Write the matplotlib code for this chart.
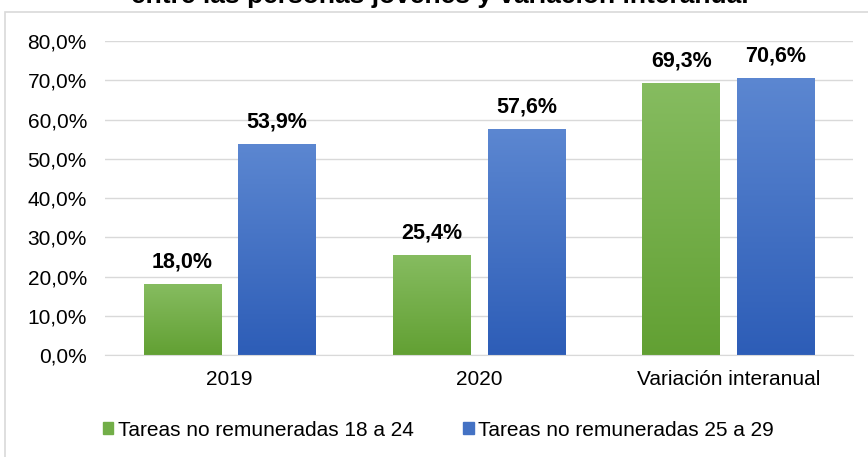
import numpy as np
import matplotlib.pyplot as plt
from matplotlib.colors import LinearSegmentedColormap
from matplotlib.patches import Rectangle

plt.rcParams['font.family'] = ['Liberation Sans', 'DejaVu Sans']

categories = ['2019', '2020', 'Variación interanual']
jov_18_24 = [18.0, 25.4, 69.3]
jov_25_29 = [53.9, 57.6, 70.6]
series_names = ['Tareas no remuneradas 18 a 24', 'Tareas no remuneradas 25 a 29']
title = 'entre las personas jóvenes y variación interanual'

fig = plt.figure(figsize=(8.68, 4.57), dpi=100)
ax = fig.add_axes([0.121, 0.223, 0.862, 0.687])

# marco del gráfico
fig.patches.append(Rectangle((5/868, -0.01), 1.0, 1 - 12/457 + 0.01, transform=fig.transFigure,
                             fill=False, edgecolor='#D9D9D9', linewidth=1.2))

x = np.arange(len(categories))
w = 0.31
off = 0.19
green = LinearSegmentedColormap.from_list('g', ['#62A033', '#86BC60'])
blue = LinearSegmentedColormap.from_list('b', ['#2D5DB7', '#5C87D1'])

grad = np.linspace(0, 1, 256).reshape(-1, 1)
for vals, cmap, dx, name in [(jov_18_24, green, -off, series_names[0]),
                             (jov_25_29, blue, off, series_names[1])]:
    bars = ax.bar(x + dx, vals, w, color=cmap(0.5), label=name, zorder=2)
    for b, v in zip(bars, vals):
        b.set_facecolor('none')
        b.set_edgecolor('none')
        im = ax.imshow(grad, cmap=cmap, origin='lower', aspect='auto', zorder=2,
                       extent=[b.get_x(), b.get_x() + b.get_width(), 0, b.get_height()])
        im.set_clip_path(b)
        ax.text(b.get_x() + b.get_width() / 2, v + 4.2, f'{v:.1f}%'.replace('.', ','),
                ha='center', va='baseline', fontsize=15.5, fontweight='bold')

ax.set_xlim(-0.5, 2.5)
ax.set_ylim(0, 80)
ax.set_yticks(np.arange(0, 81, 10))
ax.set_yticklabels([f'{t:.1f}%'.replace('.', ',') for t in np.arange(0, 81, 10)])
ax.set_xticks(x)
ax.set_xticklabels(categories)
ax.tick_params(axis='both', length=0, labelsize=15, colors='#000000')
ax.tick_params(axis='y', pad=13)
ax.tick_params(axis='x', pad=11)
ax.grid(axis='y', color='#D9D9D9', linewidth=1, zorder=0)
ax.set_axisbelow(True)
for s in ['top', 'right', 'left']:
    ax.spines[s].set_visible(False)
ax.spines['bottom'].set_color('#D9D9D9')

handles = [Rectangle((0, 0), 1, 1, color='#72AE48'), Rectangle((0, 0), 1, 1, color='#4472C4')]
fig.legend(handles, series_names, loc='center', bbox_to_anchor=(0.505, 1 - 430/457), ncol=2,
           frameon=False, fontsize=15, handlelength=0.5, handleheight=0.5,
           handletextpad=0.2, columnspacing=2.4)

fig.text(0.507, 1 - 3/457, title, ha='center', va='baseline', fontsize=19, fontweight='bold')

fig.savefig('out.png', dpi=100)
